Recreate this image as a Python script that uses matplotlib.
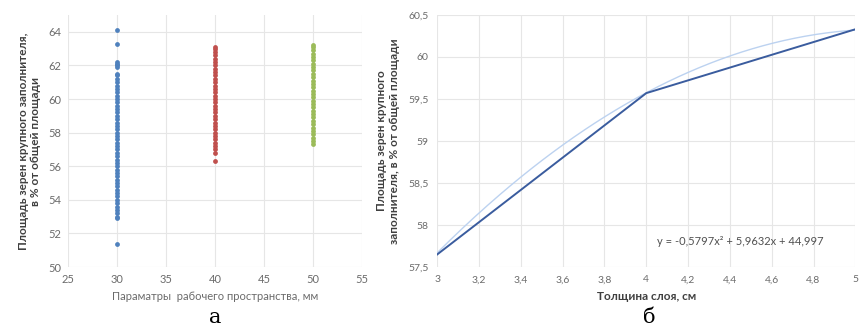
import numpy as np
import matplotlib
matplotlib.use("Agg")
import matplotlib.pyplot as plt
from matplotlib.ticker import FuncFormatter

plt.rcParams['font.family'] = ['Lato', 'DejaVu Sans']

# --- panel a: scatter of area vs workspace parameter
x_a = [30, 40, 50]
blue_vals = [51.4, 52.9, 53.0, 53.2, 53.4, 53.6, 53.8, 54.0, 54.2, 54.4, 54.6, 54.8,
             55.0, 55.2, 55.4, 55.6, 55.8, 56.0, 56.2, 56.4, 56.6, 56.8, 57.0, 57.2,
             57.4, 57.6, 57.8, 58.0, 58.2, 58.4, 58.6, 58.8, 59.0, 59.2, 59.4, 59.6,
             59.8, 60.0, 60.2, 60.4, 60.6, 60.8, 61.0, 61.2, 61.4, 61.5,
             61.9, 62.0, 62.1, 62.2, 63.3, 64.1]
red_vals = [56.3, 56.8, 57.0, 57.2, 57.4, 57.6, 57.8, 58.0, 58.2, 58.4, 58.6, 58.8,
            59.0, 59.2, 59.4, 59.6, 59.8, 60.0, 60.2, 60.4, 60.6, 60.8, 61.0, 61.2,
            61.4, 61.6, 61.8, 62.0, 62.2, 62.4, 62.6, 62.8, 63.0, 63.1]
green_vals = [57.3, 57.5, 57.7, 57.9, 58.1, 58.3, 58.5, 58.7, 58.9, 59.1, 59.3, 59.5,
              59.7, 59.9, 60.1, 60.3, 60.5, 60.7, 60.9, 61.1, 61.3, 61.5, 61.7, 61.9,
              62.1, 62.3, 62.5, 62.7, 62.9, 63.1, 63.2]

# --- panel b: area vs layer thickness
thick = [3, 4, 5]
area = [57.65, 59.57, 60.33]
coef = [-0.5797, 5.9632, 44.997]

tick_col = '#6b6b6b'
grid_col = '#e6e6e6'

fig = plt.figure(figsize=(8.64, 3.33), dpi=100)

ax1 = fig.add_axes([0.079, 0.198, 0.340, 0.757])
for xv, vals, c in [(x_a[0], blue_vals, '#4f81bd'),
                    (x_a[1], red_vals, '#c0504d'),
                    (x_a[2], green_vals, '#9bbb59')]:
    ax1.scatter([xv] * len(vals), vals, s=12, color=c, zorder=3, linewidths=0)
ax1.set_xlim(25, 55)
ax1.set_ylim(50, 65)
ax1.set_xticks(range(25, 56, 5))
ax1.set_yticks(range(50, 65, 2))
ax1.grid(True, color=grid_col, lw=0.8)
for s in ax1.spines.values():
    s.set_visible(False)
ax1.tick_params(length=0, labelsize=8, colors=tick_col, pad=5)
ax1.set_xlabel('Параматры  рабочего пространства, мм', fontsize=8, color=tick_col, labelpad=4)
ax1.set_ylabel('Площадь зерен крупного заполнителя,\nв % от общей площади',
               fontsize=8.5, fontweight='bold', color='#404040', labelpad=5)

ax2 = fig.add_axes([0.506, 0.198, 0.484, 0.757])
xs = np.linspace(3, 5, 200)
ax2.plot(xs, np.polyval(coef, xs), color='#bcd2f0', lw=1.0, zorder=2)
ax2.plot(thick, area, color='#3a5c9e', lw=1.4, zorder=3)
ax2.set_xlim(3, 5)
ax2.set_ylim(57.5, 60.5)
ax2.set_xticks(np.arange(3, 5.01, 0.2))
ax2.set_yticks(np.arange(57.5, 60.51, 0.5))
comma = FuncFormatter(lambda v, p: ('%g' % round(v, 2)).replace('.', ','))
ax2.xaxis.set_major_formatter(comma)
ax2.yaxis.set_major_formatter(comma)
ax2.grid(True, color=grid_col, lw=0.8)
for s in ax2.spines.values():
    s.set_visible(False)
ax2.tick_params(length=0, labelsize=7.5, colors=tick_col, pad=6)
ax2.set_xlabel('Толщина слоя, см', fontsize=8.5, fontweight='bold', color='#404040', labelpad=5)
ax2.set_ylabel('Площадь зерен крупного\nзаполнителя, в % от общей площади',
               fontsize=8.5, fontweight='bold', color='#404040', labelpad=6)
ax2.text(4.45, 57.81, 'y = -0,5797x² + 5,9632x + 44,997', fontsize=8,
         color='#505050', ha='center', va='center')

fig.text(0.249, 0.03, 'а', fontsize=15, family='DejaVu Serif', ha='center')
fig.text(0.752, 0.03, 'б', fontsize=15, family='DejaVu Serif', ha='center')

fig.savefig('out.png', dpi=100)
